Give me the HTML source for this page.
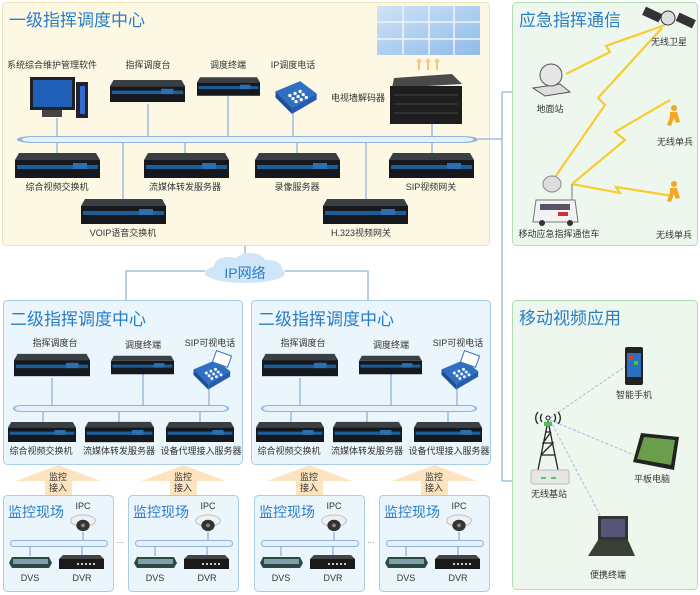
<!DOCTYPE html>
<html><head><meta charset="utf-8"><style>
html,body{margin:0;padding:0;background:#fff;width:700px;height:595px;overflow:hidden}
svg{display:block;font-family:"Liberation Sans","Noto Sans CJK SC",sans-serif}
.l{font-size:9px;fill:#333;text-anchor:middle}
.t{font-size:17px;fill:#2a7dc8}
.ts{font-size:14px;fill:#2a7dc8}
</style></head><body>
<svg width="700" height="595" viewBox="0 0 700 595" xmlns="http://www.w3.org/2000/svg">
<defs>
<symbol id="rack" viewBox="0 0 85 25"><path d="M4 0H81L85 7H0Z" fill="#3a3f44"/><rect x="0" y="7" width="85" height="18" fill="#15181c"/><rect x="2" y="12" width="81" height="4" fill="#1e5e98"/><rect x="58" y="10" width="14" height="6" fill="#2a6fb0"/></symbol>
<symbol id="bus" viewBox="0 0 100 7" preserveAspectRatio="none"><rect x="0.5" y="0.5" width="99" height="6" rx="3" fill="#e6f0fb" stroke="#8fb3dc"/></symbol>
<symbol id="phone" viewBox="0 0 48 36"><path d="M6 14L30 4L46 16L22 30Z" fill="#2f6fc4"/><path d="M6 14L22 30L22 36L6 20Z" fill="#1d4f98"/><path d="M22 30L46 16L46 22L22 36Z" fill="#245db0"/><g fill="#fff"><circle cx="20" cy="18" r="1.6"/><circle cx="25" cy="16" r="1.6"/><circle cx="30" cy="14" r="1.6"/><circle cx="23" cy="21" r="1.6"/><circle cx="28" cy="19" r="1.6"/><circle cx="33" cy="17" r="1.6"/><circle cx="26" cy="24" r="1.6"/><circle cx="31" cy="22" r="1.6"/><circle cx="36" cy="20" r="1.6"/></g></symbol>
<symbol id="cam" viewBox="0 0 26 20"><ellipse cx="13" cy="7" rx="13" ry="6" fill="#eef0f2" stroke="#bbb"/><ellipse cx="13" cy="12" rx="7" ry="6" fill="#333"/><circle cx="13" cy="12" r="2" fill="#888"/></symbol>
<symbol id="dvs" viewBox="0 0 43 14"><path d="M3 2H40L43 8L40 13H3L0 8Z" fill="#2b4a44"/><rect x="4" y="4" width="35" height="5" fill="#7fa0a8"/></symbol>
<symbol id="dvr" viewBox="0 0 45 14"><path d="M4 0H41L45 4H0Z" fill="#444"/><rect x="0" y="4" width="45" height="10" fill="#1a1a1a"/><g fill="#ccc"><rect x="18" y="8" width="2" height="2"/><rect x="22" y="8" width="2" height="2"/><rect x="26" y="8" width="2" height="2"/><rect x="30" y="8" width="2" height="2"/><rect x="34" y="8" width="2" height="2"/></g></symbol>
<symbol id="up" viewBox="0 0 85 30"><path d="M42.5 0L85 16H56V30H29V16H0Z" fill="#fde4c0"/></symbol>
<linearGradient id="wg" x1="0" y1="0" x2="1" y2="1"><stop offset="0" stop-color="#cfe3f7"/><stop offset="1" stop-color="#8fbbe8"/></linearGradient>
</defs>

<rect x="2.5" y="2.5" width="487" height="243" rx="4" fill="#fdf8e4" stroke="#f2e2b4"/>
<text class="t" x="9" y="26">一级指挥调度中心</text>
<rect x="377" y="6" width="103" height="49" fill="url(#wg)"/>
<g stroke="#eef5fc" stroke-width="1.5"><line x1="403" y1="6" x2="403" y2="55"/><line x1="429" y1="6" x2="429" y2="55"/><line x1="454" y1="6" x2="454" y2="55"/><line x1="377" y1="22" x2="480" y2="22"/><line x1="377" y1="39" x2="480" y2="39"/></g>
<g fill="#fbc27a"><path d="M419 58l-3 4h2v8h2v-8h2z"/><path d="M428 58l-3 4h2v8h2v-8h2z"/><path d="M437 58l-3 4h2v8h2v-8h2z"/></g>
<text class="l" x="52" y="68">系统综合维护管理软件</text>
<text class="l" x="148" y="68">指挥调度台</text>
<text class="l" x="228" y="68">调度终端</text>
<text class="l" x="293" y="68">IP调度电话</text>
<text class="l" x="358" y="101">电视墙解码器</text>
<rect x="30" y="77" width="45" height="33" fill="#222"/><rect x="33" y="80" width="39" height="27" fill="#1f5fb8"/><rect x="42" y="110" width="20" height="7" fill="#444"/><rect x="76" y="82" width="12" height="36" fill="#223"/><rect x="80" y="86" width="5" height="28" fill="#2f6bd0"/>
<use href="#rack" x="110" y="78" width="75" height="26"/>
<use href="#rack" x="197" y="77" width="63" height="19"/>
<use href="#phone" x="269" y="77" width="50" height="37"/>
<path d="M394 78L452 74L462 84L392 88Z" fill="#4a4a4a"/><rect x="390" y="86" width="72" height="38" fill="#1e1e1e"/><g stroke="#444"><line x1="394" y1="95" x2="458" y2="95"/><line x1="394" y1="104" x2="458" y2="104"/><line x1="394" y1="113" x2="458" y2="113"/></g>
<g stroke="#8fb3dc" stroke-width="1.3">
<line x1="57" y1="118" x2="57" y2="136"/><line x1="148" y1="104" x2="148" y2="136"/><line x1="228" y1="96" x2="228" y2="136"/><line x1="293" y1="113" x2="293" y2="136"/><line x1="432" y1="124" x2="432" y2="136"/>
<line x1="57" y1="142" x2="57" y2="154"/><line x1="185" y1="142" x2="185" y2="154"/><line x1="297" y1="142" x2="297" y2="154"/><line x1="432" y1="142" x2="432" y2="154"/><line x1="123" y1="142" x2="123" y2="200"/><line x1="366" y1="142" x2="366" y2="200"/>
<line x1="478" y1="139" x2="502" y2="139"/><line x1="502" y1="92" x2="502" y2="481"/><line x1="502" y1="92" x2="532" y2="92"/><line x1="502" y1="481" x2="534" y2="481"/>
<line x1="245" y1="246" x2="245" y2="262"/><polyline points="205,271 126,271 126,300" fill="none"/><polyline points="285,271 368,271 368,300" fill="none"/>
</g>
<use href="#bus" x="17" y="136" width="461" height="7"/>
<use href="#rack" x="15" y="153" width="85" height="25"/>
<use href="#rack" x="144" y="153" width="85" height="25"/>
<use href="#rack" x="255" y="153" width="85" height="25"/>
<use href="#rack" x="389" y="153" width="85" height="25"/>
<use href="#rack" x="81" y="199" width="85" height="25"/>
<use href="#rack" x="323" y="199" width="85" height="25"/>
<text class="l" x="57" y="190">综合视频交换机</text>
<text class="l" x="185" y="190">流媒体转发服务器</text>
<text class="l" x="297" y="190">录像服务器</text>
<text class="l" x="431" y="190">SIP视频网关</text>
<text class="l" x="123" y="236">VOIP语音交换机</text>
<text class="l" x="361" y="236">H.323视频网关</text>

<g fill="#cfe6f8"><ellipse cx="245" cy="273" rx="40" ry="10"/><ellipse cx="228" cy="266" rx="14" ry="9"/><ellipse cx="250" cy="263" rx="16" ry="10"/><ellipse cx="268" cy="268" rx="14" ry="8"/></g>
<text x="245" y="278" font-size="14" fill="#2a7dc8" text-anchor="middle">IP网络</text>

<g id="c2">
<rect x="3.5" y="300.5" width="239" height="164" rx="4" fill="#eaf5fc" stroke="#a8cde6"/>
<text class="t" x="10" y="325">二级指挥调度中心</text>
<text class="l" x="55" y="346">指挥调度台</text><text class="l" x="143" y="348">调度终端</text><text class="l" x="210" y="346">SIP可视电话</text>
<g stroke="#8fb3dc" stroke-width="1.3"><line x1="52" y1="378" x2="52" y2="406"/><line x1="143" y1="374" x2="143" y2="406"/><line x1="209" y1="384" x2="209" y2="406"/><line x1="43" y1="412" x2="43" y2="423"/><line x1="119" y1="412" x2="119" y2="423"/><line x1="200" y1="412" x2="200" y2="423"/></g>
<use href="#rack" x="14" y="351" width="76" height="28"/>
<use href="#rack" x="111" y="355" width="63" height="20"/>
<use href="#phone" x="188" y="356" width="44" height="34"/>
<rect x="214" y="353" width="16" height="12" fill="#fff" stroke="#2f6fc4" transform="rotate(20 222 359)"/>
<use href="#bus" x="13" y="405" width="216" height="7"/>
<use href="#rack" x="8" y="421" width="68" height="22"/>
<use href="#rack" x="85" y="421" width="69" height="22"/>
<use href="#rack" x="166" y="421" width="68" height="22"/>
<text class="l" x="41" y="454">综合视频交换机</text><text class="l" x="119" y="454">流媒体转发服务器</text><text class="l" x="201" y="454">设备代理接入服务器</text>
</g>
<use href="#c2" x="248" y="0"/>

<g id="site">
<use href="#up" x="16" y="465" width="85" height="30"/>
<text class="l" x="58" y="480">监控</text><text class="l" x="58" y="491">接入</text>
<rect x="3.5" y="495.5" width="110" height="96" rx="4" fill="#eaf5fc" stroke="#a8cde6"/>
<text class="ts" x="8" y="517">监控现场</text>
<text class="l" x="83" y="509">IPC</text>
<use href="#cam" x="70" y="514" width="26" height="19"/>
<g stroke="#8fb3dc" stroke-width="1.3"><line x1="83" y1="532" x2="83" y2="540"/><line x1="30" y1="546" x2="30" y2="556"/><line x1="82" y1="546" x2="82" y2="556"/></g>
<use href="#bus" x="10" y="540" width="98" height="7"/>
<use href="#dvs" x="9" y="555" width="43" height="14"/>
<use href="#dvr" x="59" y="555" width="45" height="14"/>
<text class="l" x="30" y="581">DVS</text><text class="l" x="82" y="581">DVR</text>
</g>
<use href="#site" x="125" y="0"/><use href="#site" x="251" y="0"/><use href="#site" x="376" y="0"/>
<text x="120" y="545" font-size="8" fill="#666" text-anchor="middle">···</text>
<text x="371" y="545" font-size="8" fill="#666" text-anchor="middle">···</text>

<rect x="512.5" y="2.5" width="185" height="243" rx="4" fill="#eef7ee" stroke="#b4dcb4"/>
<text class="t" x="519" y="26">应急指挥通信</text>
<g fill="none" stroke="#f7cc30" stroke-width="2.2">
<polyline points="566,74 610,52 606,46 665,25"/>
<polyline points="553,180 605,105 598,98 662,28"/>
<polyline points="572,184 625,140 615,132 670,100"/>
<polyline points="572,184 620,193 616,187 673,196"/>
</g>
<g><rect x="643" y="10" width="18" height="9" fill="#333" transform="rotate(25 652 15)"/><rect x="677" y="16" width="18" height="9" fill="#333" transform="rotate(25 686 20)"/><circle cx="668" cy="18" r="7" fill="#ddd" stroke="#333"/></g>
<text class="l" x="669" y="45">无线卫星</text>
<path d="M533 88L560 84L570 92L545 96Z" fill="#ddd" stroke="#555"/><circle cx="551" cy="75" r="11" fill="#e6e6e6" stroke="#555"/>
<text class="l" x="550" y="112">地面站</text>
<g fill="#f5a623"><circle cx="674" cy="108" r="3"/><path d="M670 112h7l3 10-4 1-2-5-3 8-4-1 3-8z"/><circle cx="674" cy="184" r="3"/><path d="M670 188h7l3 10-4 1-2-5-3 8-4-1 3-8z"/></g>
<text class="l" x="675" y="145">无线单兵</text>
<text class="l" x="674" y="238">无线单兵</text>
<ellipse cx="552" cy="184" rx="9" ry="8" fill="#ddd" stroke="#888"/><line x1="572" y1="184" x2="572" y2="200" stroke="#777"/>
<path d="M536 200H575L578 222H533Z" fill="#f2f2f2" stroke="#777"/><rect x="540" y="204" width="30" height="6" fill="#556"/><rect x="558" y="212" width="10" height="4" fill="#c33"/><circle cx="542" cy="223" r="3" fill="#333"/><circle cx="570" cy="223" r="3" fill="#333"/>
<text class="l" x="559" y="237">移动应急指挥通信车</text>

<rect x="512.5" y="300.5" width="185" height="289" rx="4" fill="#eef7ee" stroke="#b4dcb4"/>
<text class="t" x="519" y="324">移动视频应用</text>
<g stroke="#9dbde0" stroke-dasharray="3,2" fill="none"><line x1="550" y1="418" x2="626" y2="366"/><line x1="550" y1="420" x2="634" y2="455"/><line x1="550" y1="420" x2="600" y2="515"/></g>
<g stroke="#222" stroke-width="1.3" fill="none"><path d="M548 421L538 470M548 421L558 470M541 455L555 455M543 443L553 443M545 432L551 432M541 455L553 443L543 443L551 432"/>
<path d="M542 414a6 6 0 0 0 0 8M538 412a9 9 0 0 0 0 12M554 414a6 6 0 0 1 0 8M558 412a9 9 0 0 1 0 12"/></g>
<circle cx="548" cy="418" r="2" fill="none" stroke="#222"/><rect x="544" y="422" width="8" height="4" fill="#5b5"/>
<rect x="531" y="470" width="38" height="14" rx="2" fill="#e6e6e6" stroke="#bbb"/><rect x="541" y="477" width="5" height="2" fill="#5c5"/><rect x="551" y="477" width="5" height="2" fill="#5c5"/>
<text class="l" x="549" y="497">无线基站</text>
<rect x="625" y="347" width="18" height="38" rx="2" fill="#222"/><rect x="627" y="353" width="14" height="24" fill="#2b6fc0"/><rect x="629" y="356" width="4" height="4" fill="#e33"/><rect x="634" y="361" width="4" height="4" fill="#3c3"/>
<text class="l" x="634" y="398">智能手机</text>
<path d="M641 433L679 437L674 470L633 462Z" fill="#222"/><path d="M644 437L675 440L671 465L637 459Z" fill="#6a9e4a"/>
<text class="l" x="652" y="482">平板电脑</text>
<path d="M598 516H628L628 540H598Z" fill="#333"/><rect x="601" y="519" width="24" height="18" fill="#557"/><path d="M598 540H628L635 556H588Z" fill="#3a3f35"/>
<text class="l" x="608" y="578">便携终端</text>
</svg>
</body></html>
